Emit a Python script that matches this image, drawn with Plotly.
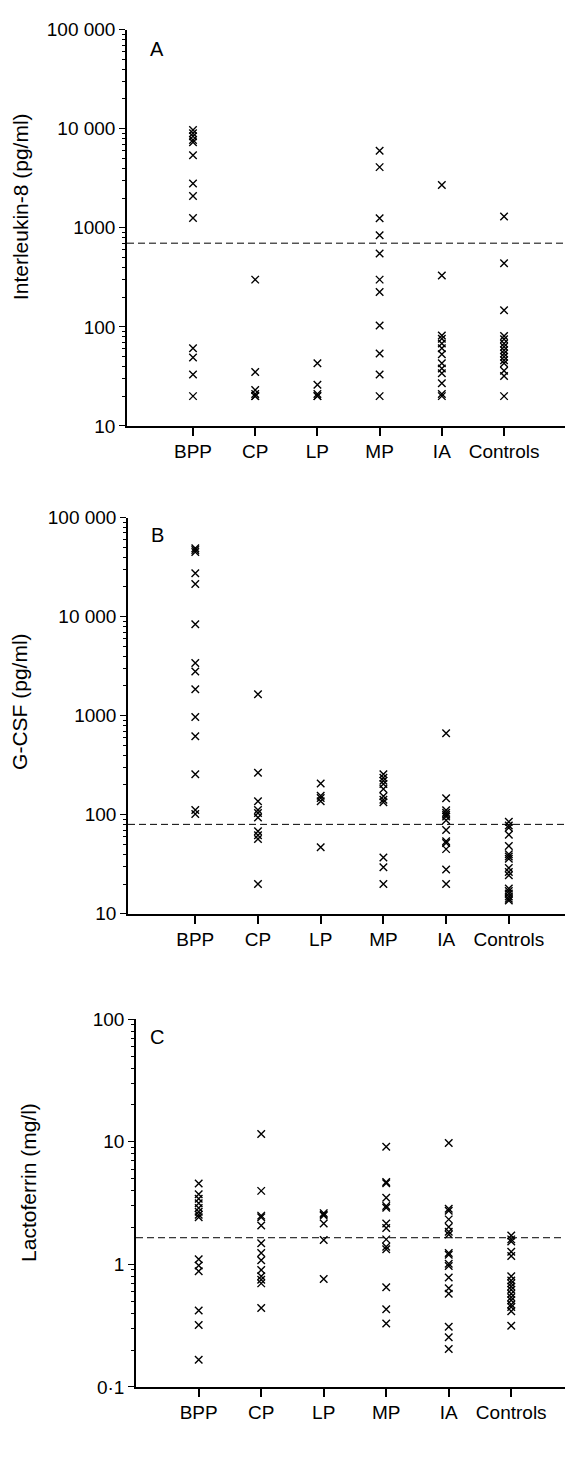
import plotly.graph_objects as go

W, H = 565, 1462

categories = ["BPP", "CP", "LP", "MP", "IA", "Controls"]

# Panel A: Interleukin-8 (pg/ml)
il8_BPP = [9700, 9000, 8400, 7700, 7300, 5400, 2800, 2100, 1260, 61, 49, 33, 20]
il8_CP = [300, 35, 23, 21, 20, 20]
il8_LP = [43, 26, 21, 20, 20]
il8_MP = [6000, 4100, 1250, 840, 550, 300, 225, 103, 54, 33, 20]
il8_IA = [2700, 330, 82, 76, 68, 61, 53, 43, 38, 34, 27, 21, 20]
il8_Controls = [1300, 440, 147, 81, 75, 68, 63, 58, 54, 50, 46, 43, 36, 32, 20]

# Panel B: G-CSF (pg/ml)
gcsf_BPP = [49000, 47000, 45000, 27500, 21400, 8400, 3400, 2800, 1850, 970, 620, 256, 112, 102]
gcsf_CP = [1650, 266, 137, 112, 104, 94, 68, 62, 57, 20]
gcsf_LP = [207, 156, 148, 137, 47]
gcsf_MP = [256, 237, 220, 204, 182, 154, 142, 134, 37, 29.5, 20]
gcsf_IA = [664, 147, 111, 105, 100, 96, 88, 70, 54, 52, 45, 28, 20]
gcsf_Controls = [85, 78, 74, 63, 48.5, 40, 38, 36, 29, 26.5, 24.5, 18, 17, 16, 15, 14.2, 13.6]

# Panel C: Lactoferrin (mg/l)
lf_BPP = [4.57, 3.74, 3.43, 3.15, 2.88, 2.69, 2.54, 2.43, 1.10, 0.98, 0.88, 0.42, 0.32, 0.167]
lf_CP = [11.6, 3.98, 2.50, 2.43, 2.08, 1.49, 1.24, 1.08, 0.90, 0.80, 0.75, 0.70, 0.44]
lf_LP = [2.62, 2.55, 2.50, 2.16, 1.58, 0.76]
lf_MP = [9.1, 4.7, 4.6, 3.5, 3.0, 2.9, 2.16, 1.98, 1.60, 1.39, 1.33, 0.65, 0.43, 0.33]
lf_IA = [9.8, 2.85, 2.74, 2.33, 2.02, 1.85, 1.75, 1.24, 1.2, 1.01, 0.97, 0.78, 0.64, 0.575, 0.31, 0.254, 0.204]
lf_Controls = [1.72, 1.60, 1.54, 1.27, 1.17, 0.80, 0.74, 0.70, 0.66, 0.62, 0.575, 0.54, 0.51, 0.47, 0.45, 0.415, 0.316]

thresholds = [700, 80, 1.65]

titles = ["Interleukin-8 (pg/ml)", "G-CSF (pg/ml)", "Lactoferrin (mg/l)"]
panel_letters = ["A", "B", "C"]
yticks_AB = [10, 100, 1000, 10000, 100000]
yticktext_AB = ["10", "100", "1000", "10 000", "100 000"]
yticks_C = [0.1, 1, 10, 100]
yticktext_C = ["0·1", "1", "10", "100"]

panels = [
    [il8_BPP, il8_CP, il8_LP, il8_MP, il8_IA, il8_Controls],
    [gcsf_BPP, gcsf_CP, gcsf_LP, gcsf_MP, gcsf_IA, gcsf_Controls],
    [lf_BPP, lf_CP, lf_LP, lf_MP, lf_IA, lf_Controls],
]

# layout geometry (pixels)
geo = [
    dict(left=127, top=20, bottom=422, xr=[-1.061, 5.98], yr=[1, 5], ticks=(yticks_AB, yticktext_AB),
         title_y=200, title_x=20, letter=(157, 40)),
    dict(left=128, top=515, bottom=917, xr=[-1.073, 5.896], yr=[1, 5], ticks=(yticks_AB, yticktext_AB),
         title_y=702, title_x=20, letter=(157, 533)),
    dict(left=136, top=1024, bottom=1397, xr=[-1.003, 5.86], yr=[-1, 2], ticks=(yticks_C, yticktext_C),
         title_y=1190, title_x=29, letter=(157, 1042)),
]

FONT = "Liberation Sans, Arial, sans-serif"
TICKSIZE = 19
TITLESIZE = 21
fig = go.Figure()
layout = dict(width=W, height=H, margin=dict(l=0, r=0, t=0, b=0),
              paper_bgcolor="white", plot_bgcolor="white", showlegend=False,
              font=dict(family=FONT, size=TICKSIZE, color="black"))
annotations = []
shapes = []

for p, (data, g) in enumerate(zip(panels, geo)):
    sfx = "" if p == 0 else str(p + 1)
    xa, ya = "x" + sfx, "y" + sfx
    for i, vals in enumerate(data):
        fig.add_trace(go.Scatter(
            x=[i] * len(vals), y=vals, mode="markers", xaxis=xa, yaxis=ya,
            marker=dict(symbol="x-thin", size=7.5, color="black",
                        line=dict(width=1.4, color="black")),
            cliponaxis=False, hoverinfo="y"))
    lo, hi = g["yr"]
    minor_vals = [m * 10 ** d for d in range(lo, hi) for m in range(2, 10)]
    layout["xaxis" + sfx] = dict(
        domain=[g["left"] / W, 1], anchor=ya, range=g["xr"],
        tickmode="array", tickvals=list(range(len(categories))), ticktext=categories,
        ticks="outside", ticklen=8, tickwidth=1.5, tickcolor="black",
        showline=True, linecolor="black", linewidth=1.5,
        showgrid=False, zeroline=False, tickfont=dict(size=TICKSIZE, family=FONT))
    layout["yaxis" + sfx] = dict(
        domain=[1 - g["bottom"] / H, 1 - g["top"] / H], anchor=xa, type="log",
        range=[lo, hi], tickmode="array", tickvals=g["ticks"][0], ticktext=g["ticks"][1],
        ticks="outside", ticklen=6, tickwidth=1.3, tickcolor="black",
        minor=dict(tickvals=minor_vals, ticks="outside", ticklen=3, tickwidth=1, tickcolor="black"),
        showline=True, linecolor="black", linewidth=1.5,
        showgrid=False, zeroline=False, tickfont=dict(size=TICKSIZE, family=FONT))
    shapes.append(dict(type="line", xref=xa + " domain", x0=0, x1=1, yref=ya,
                       y0=thresholds[p], y1=thresholds[p],
                       line=dict(color="black", width=1, dash="7px,4px")))
    lx, ly = g["letter"]
    annotations.append(dict(text=panel_letters[p], xref="paper", yref="paper",
                            x=lx / W, y=1 - ly / H,
                            xanchor="center", yanchor="middle", showarrow=False,
                            font=dict(size=20, family=FONT)))
    annotations.append(dict(text=titles[p], xref="paper", yref="paper",
                            x=g["title_x"] / W, y=1 - g["title_y"] / H, textangle=-90,
                            xanchor="center", yanchor="middle", showarrow=False,
                            font=dict(size=TITLESIZE, family=FONT)))

layout["annotations"] = annotations
layout["shapes"] = shapes
fig.update_layout(**layout)
fig.write_html("out.html", config={"displayModeBar": False},
               post_script="document.body.style.margin='0px';")
